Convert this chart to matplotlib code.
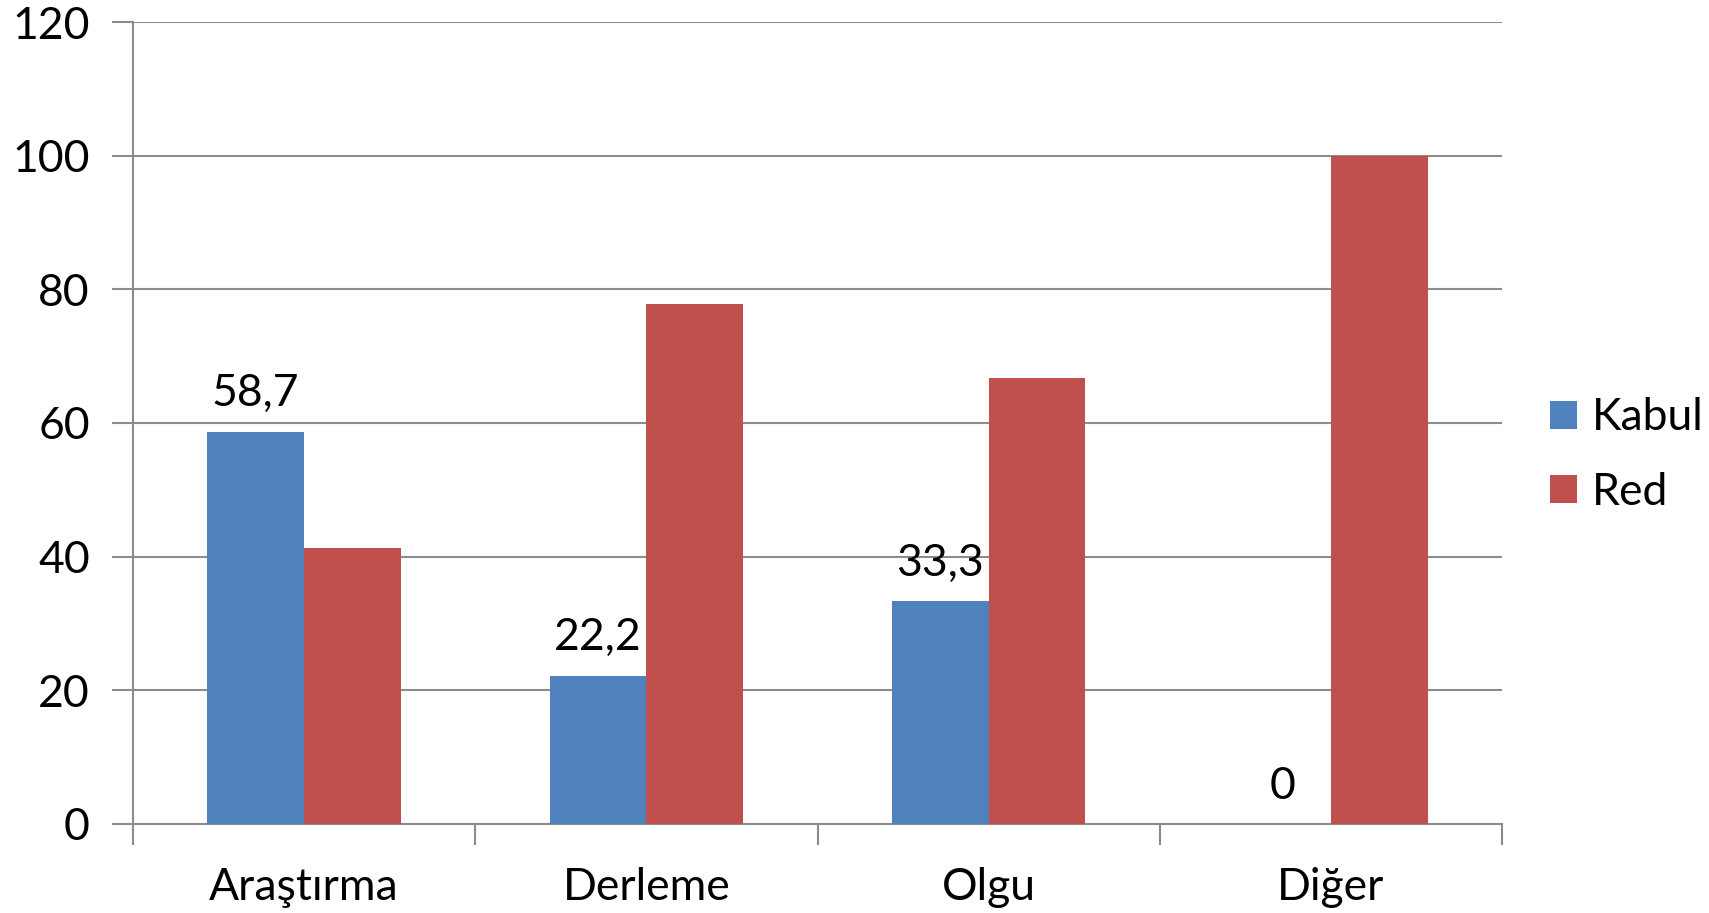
import matplotlib
matplotlib.use("Agg")
import matplotlib.pyplot as plt
import numpy as np

categories = ["Araştırma", "Derleme", "Olgu", "Diğer"]
kabul = [58.7, 22.2, 33.3, 0]
red = [41.3, 77.8, 66.7, 100]
kabul_labels = ["58,7", "22,2", "33,3", "0"]

BLUE = "#4F81BD"
RED = "#C0504D"
GRID = "#8C8C8C"
FS = 32

plt.rcParams["font.family"] = ["Lato", "DejaVu Sans"]

fig = plt.figure(figsize=(17.09, 9.13), dpi=100)
ax = fig.add_axes([0.0778, 0.0975, 0.8011, 0.8784])

x = np.arange(len(categories))
w = 0.283
ax.bar(x - w / 2, kabul, w, color=BLUE, label="Kabul", zorder=3)
ax.bar(x + w / 2, red, w, color=RED, label="Red", zorder=3)

# data labels only on the Kabul series
for xi, v, lab in zip(x, kabul, kabul_labels):
    ax.text(xi - w / 2, v + 2.6, lab, ha="center", va="bottom", fontsize=FS, zorder=4)

ax.set_xlim(-0.5, len(categories) - 0.5)
ax.set_ylim(0, 120)
ax.set_yticks(range(0, 121, 20))
ax.yaxis.grid(True, color=GRID, lw=1.5, zorder=0)
ax.set_axisbelow(True)

ax.set_xticks(x)
ax.set_xticklabels(categories)
ax.set_xticks(np.arange(-0.5, len(categories), 1.0), minor=True)
ax.tick_params(axis="x", which="major", length=0, pad=31, labelsize=FS)
ax.tick_params(axis="x", which="minor", length=15, width=1.5, color=GRID)
ax.tick_params(axis="y", length=15, width=1.5, color=GRID, labelsize=FS, pad=16)

for s in ["top", "right"]:
    ax.spines[s].set_visible(False)
for s in ["left", "bottom"]:
    ax.spines[s].set_color(GRID)
    ax.spines[s].set_linewidth(1.5)

ax.legend(loc="center left", bbox_to_anchor=(1.022, 0.46), frameon=False,
          fontsize=FS, handlelength=0.6, handleheight=0.6, handletextpad=0.35,
          labelspacing=0.75, borderaxespad=0)

fig.savefig("out.png", dpi=100)
